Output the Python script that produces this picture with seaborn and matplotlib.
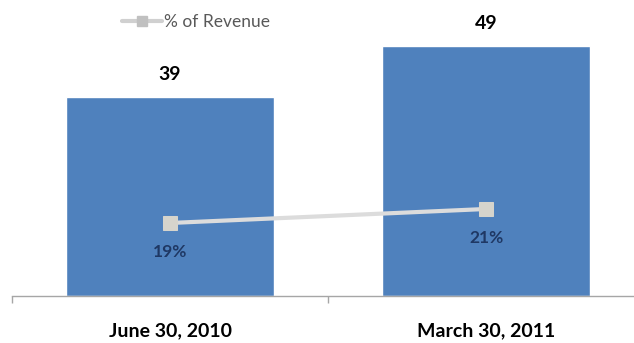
import matplotlib
matplotlib.use("Agg")
import matplotlib.pyplot as plt
import seaborn as sns
import pandas as pd
from matplotlib.lines import Line2D

categories = ["June 30, 2010", "March 30, 2011"]
values = [39, 49]
pct_revenue = [19, 21]
pct_labels = ["19%", "21%"]
legend_label = "% of Revenue"

sns.set_theme(style="white")
plt.rcParams['font.family'] = ['Lato', 'DejaVu Sans']

W, H = 634, 343
fig = plt.figure(figsize=(W / 100, H / 100), dpi=100)
ax_left, ax_right = 12, 644
ax_bottom, ax_top = 296, 20
ax = fig.add_axes([ax_left / W, (H - ax_bottom) / H, (ax_right - ax_left) / W, (ax_bottom - ax_top) / H])

df = pd.DataFrame({"cat": categories, "val": values})
sns.barplot(data=df, x="cat", y="val", color="#4F81BD", saturation=1, width=0.66, ax=ax)
ax.set_xlim(-0.5, 1.5)
ax.set_ylim(0, (ax_bottom - ax_top) / 5.11)
ax.set_xlabel("")
ax.set_ylabel("")
ax.set_yticks([])
for s in ["top", "right", "left"]:
    ax.spines[s].set_visible(False)
ax.spines["bottom"].set_color("#A6A6A6")
ax.spines["bottom"].set_linewidth(1.0)
ax.tick_params(axis="x", which="major", length=0, pad=19)
for lbl in ax.get_xticklabels():
    lbl.set_fontweight("bold")
    lbl.set_fontsize(14)
    lbl.set_color("black")
ax.set_xticks([-0.5, 0.5, 1.5], minor=True)
ax.tick_params(axis="x", which="minor", length=5, color="#A6A6A6", direction="out", bottom=True)

for i, v in enumerate(values):
    ax.text(i, v + 4.3, str(v), ha="center", va="center", fontsize=14, fontweight="bold", color="black")

ax2 = ax.twinx()
v0 = 8.57
ax2.set_ylim(v0, v0 + (ax_bottom - ax_top) / 7.0)
ax2.set_yticks([])
for s in ax2.spines.values():
    s.set_visible(False)
lp = pd.DataFrame({"x": [0, 1], "y": pct_revenue})
sns.lineplot(data=lp, x="x", y="y", ax=ax2, color="#DCDCDC", linewidth=3,
             marker="s", markersize=10.5, markerfacecolor="#D6D4CC", markeredgecolor="#D6D4CC")
ax2.set_xlim(-0.5, 1.5)
ax2.set_xlabel("")
ax2.set_ylabel("")
for i, (p, t) in enumerate(zip(pct_revenue, pct_labels)):
    ax2.text(i, p - 4.1, t, ha="center", va="center", fontsize=12.5, fontweight="bold", color="#1F3864")

handle = Line2D([], [], color="#D0D0D0", linewidth=3, marker="s", markersize=7,
                markerfacecolor="#C0C0C0", markeredgecolor="#C0C0C0")
fig.legend([handle], [legend_label], loc="center left", bbox_to_anchor=(122 / W, 1 - 22 / H),
           frameon=False, fontsize=12.5, handlelength=2.3, handletextpad=0.1, borderpad=0, borderaxespad=0,
           labelcolor="#595959")

fig.savefig("out.png", dpi=100)
